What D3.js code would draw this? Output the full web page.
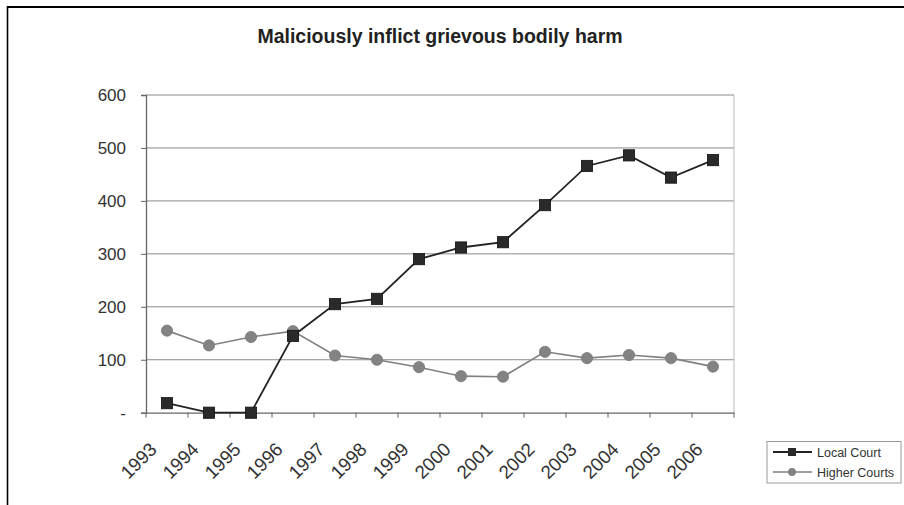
<!DOCTYPE html>
<html><head><meta charset="utf-8">
<script src="https://cdn.jsdelivr.net/npm/d3@7/dist/d3.min.js"></script>
<style>
html,body{margin:0;padding:0;background:#fff;}
svg{display:block;font-family:"Liberation Sans",Arial,sans-serif;}
</style></head><body>
<svg id="chart" width="904" height="505"></svg>
<script>
const years = ["1993","1994","1995","1996","1997","1998","1999","2000","2001","2002","2003","2004","2005","2006"];
const localCourt = [18,0,0,145,205,215,290,312,322,392,466,486,444,477];
const higherCourts = [155,127,143,154,108,100,86,69,68,115,103,109,103,87];
const yTicks = [0,100,200,300,400,500,600];
const seriesNames = ["Local Court","Higher Courts"];

(function(){
const svg = d3.select("#chart");
const pLeft = 146, pRight = 734, pTop = 95, pBottom = 412.7;

// outer frame
svg.append("line").attr("x1",7).attr("x2",904).attr("y1",7).attr("y2",7).attr("stroke","#000").attr("stroke-width",2.2);
svg.append("line").attr("x1",7.5).attr("x2",7.5).attr("y1",6).attr("y2",505).attr("stroke","#000").attr("stroke-width",1.6);

// title
svg.append("text").attr("x",440).attr("y",42.5).attr("text-anchor","middle")
  .attr("font-weight","bold").attr("font-size",19.5).attr("fill","#222")
  .text("Maliciously inflict grievous bodily harm");

const x = d3.scaleBand().domain(years).range([pLeft,pRight]);
const y = d3.scaleLinear().domain([0,600]).range([pBottom,pTop]);

// gridlines
svg.append("g").selectAll("line").data(yTicks.filter(d=>d>0)).join("line")
  .attr("x1",pLeft).attr("x2",pRight).attr("y1",d=>y(d)).attr("y2",d=>y(d))
  .attr("stroke","#8a8a8a").attr("stroke-width",1);
// right border of plot
svg.append("line").attr("x1",pRight).attr("x2",pRight).attr("y1",pTop).attr("y2",pBottom)
  .attr("stroke","#bbb").attr("stroke-width",1);

// y axis
const yAxis = d3.axisLeft(y).tickValues(yTicks).tickSize(5).tickPadding(8)
  .tickFormat(d=> d===0 ? "-" : d3.format("d")(d));
const gy = svg.append("g").attr("transform",`translate(${pLeft},0)`).call(yAxis);
gy.select(".domain").attr("stroke","#666").attr("stroke-width",1.3);
gy.selectAll(".tick line").attr("stroke","#666");
gy.selectAll("text").attr("font-size",17).attr("fill","#333").attr("font-family","Liberation Sans, Arial, sans-serif");
gy.selectAll(".tick text").attr("x",-20);

// x axis
const gx = svg.append("g").attr("transform",`translate(0,${pBottom})`)
  .call(d3.axisBottom(x).tickSize(0).tickFormat(""));
gx.select(".domain").attr("stroke","#666").attr("stroke-width",1.3);
const bounds = d3.range(years.length+1).map(i=>pLeft + i*x.step());
gx.selectAll("line.bt").data(bounds).join("line").attr("class","bt")
  .attr("x1",d=>d).attr("x2",d=>d).attr("y1",0).attr("y2",5).attr("stroke","#666");
svg.append("g").selectAll("text").data(years).join("text")
  .attr("transform",d=>`translate(${x(d)+x.bandwidth()/2-9},450.5) rotate(-45)`)
  .attr("text-anchor","end").attr("font-size",18.8).attr("fill","#333")
  .text(d=>d);

const cx = d => x(d)+x.bandwidth()/2;
const line = d3.line().x((d,i)=>cx(years[i])).y(d=>y(d));

// Higher Courts
svg.append("path").datum(higherCourts).attr("d",line).attr("fill","none")
  .attr("stroke","#808080").attr("stroke-width",1.6);
svg.append("g").selectAll("circle").data(higherCourts).join("circle")
  .attr("cx",(d,i)=>cx(years[i])).attr("cy",d=>y(d)).attr("r",5.6)
  .attr("fill","#838383").attr("stroke","#777").attr("stroke-width",0.8);

// Local Court
svg.append("path").datum(localCourt).attr("d",line).attr("fill","none")
  .attr("stroke","#222").attr("stroke-width",1.8);
svg.append("g").selectAll("rect").data(localCourt).join("rect")
  .attr("x",(d,i)=>cx(years[i])-5.6).attr("y",d=>y(d)-5.6).attr("width",11.2).attr("height",11.2)
  .attr("fill","#2a2a2a").attr("stroke","#111").attr("stroke-width",0.8);

// legend
const lg = svg.append("g");
lg.append("rect").attr("x",767).attr("y",441.5).attr("width",134).attr("height",41.5)
  .attr("fill","#fff").attr("stroke","#999").attr("stroke-width",1);
const legY = [452,472];
seriesNames.forEach((name,i)=>{
  const yy = legY[i];
  const col = i===0 ? "#222" : "#808080";
  lg.append("line").attr("x1",773).attr("x2",812).attr("y1",yy).attr("y2",yy)
    .attr("stroke",col).attr("stroke-width",i===0?1.8:1.6);
  if(i===0){
    lg.append("rect").attr("x",792-4).attr("y",yy-4).attr("width",8).attr("height",8).attr("fill","#2a2a2a");
  } else {
    lg.append("circle").attr("cx",792).attr("cy",yy).attr("r",4).attr("fill","#838383");
  }
  lg.append("text").attr("x",817).attr("y",yy+4.5).attr("font-size",12.5).attr("fill","#333").text(name);
});
})();
</script>
</body></html>
